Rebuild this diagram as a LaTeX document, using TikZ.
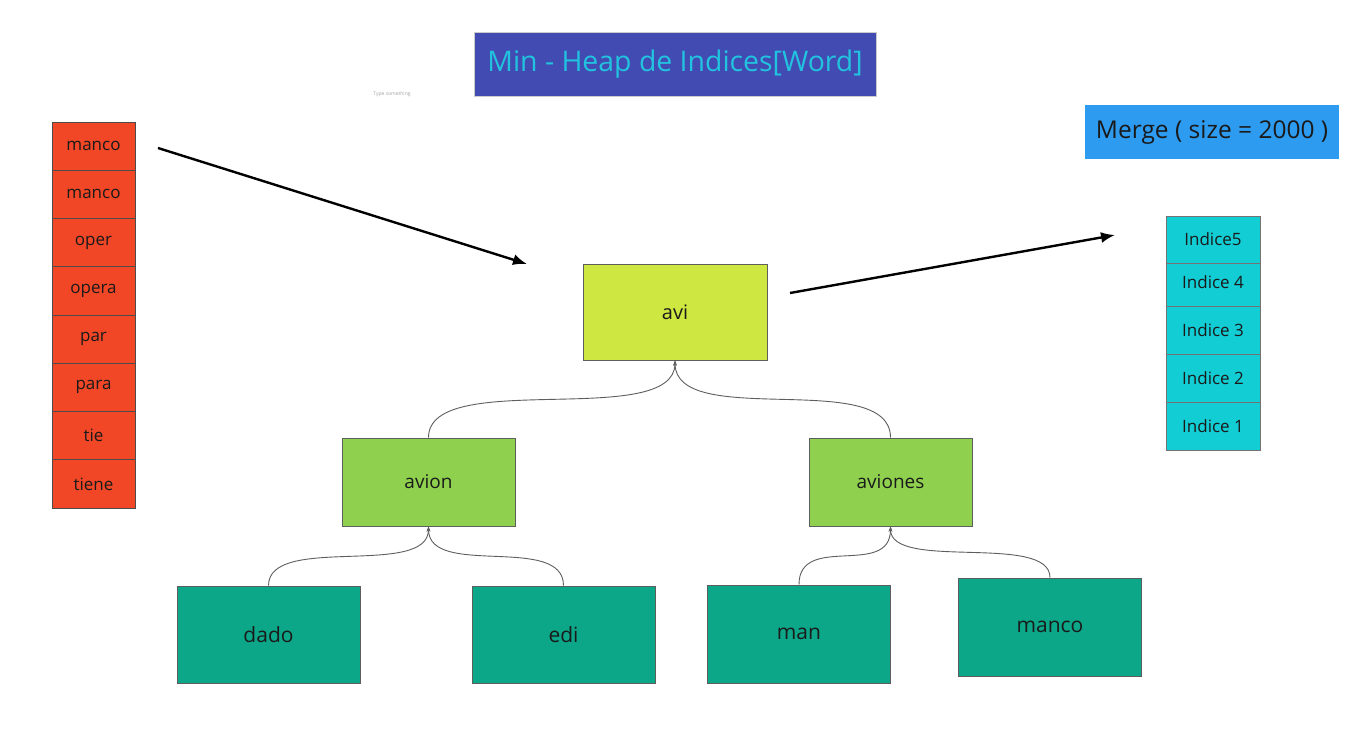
\documentclass[tikz,border=0pt]{standalone}
\usepackage{fontspec}
\setmainfont{Open Sans}
\usetikzlibrary{arrows.meta}
\definecolor{titlefill}{HTML}{414BB2}
\definecolor{titletext}{HTML}{22C3DE}
\definecolor{mergefill}{HTML}{2D9BF0}
\definecolor{redfill}{HTML}{F24726}
\definecolor{limefill}{HTML}{CEE741}
\definecolor{greenfill}{HTML}{8FD14F}
\definecolor{tealfill}{HTML}{0CA789}
\definecolor{cyanfill}{HTML}{12CDD4}
\definecolor{darktext}{HTML}{1A1A1A}
\definecolor{edgegray}{HTML}{5E5E5E}
\tikzset{
  box/.style={draw=edgegray, line width=0.9pt, inner sep=0pt, text=darktext},
  redcell/.style={box, fill=redfill, draw=black!70, minimum width=83pt, minimum height=48.25pt, font=\fontsize{17}{20}\selectfont},
  cyancell/.style={box, fill=cyanfill, draw=black!55, minimum width=94pt, minimum height=48pt, font=\fontsize{17}{20}\selectfont},
  heapA/.style={box, fill=limefill, minimum width=184pt, minimum height=96pt, font=\fontsize{20}{24}\selectfont},
  heapB/.style={box, fill=greenfill, font=\fontsize{19}{23}\selectfont},
  heapC/.style={box, fill=tealfill, minimum width=183pt, minimum height=97pt, font=\fontsize{21}{25}\selectfont},
  bigarrow/.style={line width=2.4pt, -{Latex[length=14pt,width=11pt]}},
  conn/.style={draw=edgegray, line width=0.9pt, -{Stealth[length=5pt,width=3.5pt]}},
}
\begin{document}
\begin{tikzpicture}[x=1pt,y=-1pt]
\useasboundingbox (0,0) rectangle (1356,737);
\fill[white] (0,0) rectangle (1356,737);

% title
\node[fill=titlefill, draw=black!20, line width=0.6pt, minimum width=402pt, minimum height=64pt, inner sep=0pt,
  text=titletext, font=\fontsize{28.4}{32}\selectfont] (title) at (675,64) {Min - Heap de Indices[Word]};
\node[text=black!35, font=\fontsize{5}{6}\selectfont, inner sep=0pt] (hint) at (392,94) {Type something};

% merge
\node[fill=mergefill, minimum width=254pt, minimum height=54pt, inner sep=0pt, text=darktext,
  font=\fontsize{24.5}{28}\selectfont] (merge) at (1212,132) {Merge ( size = 2000 )};

% left column
\foreach \t [count=\i] in {manco,manco,oper,opera,par,para,tie,tiene}{
  \node[redcell] (l\i) at (93.5,{146.1+(\i-1)*48.25}) {\t};
}

% right stack
\node[cyancell] (r1) at (1213,426) {Indice 1};
\node[cyancell] (r2) at (1213,378) {Indice 2};
\node[cyancell] (r3) at (1213,330) {Indice 3};
\node[cyancell] (r4) at (1213,282) {Indice 4};
\node[cyancell, minimum height=47pt] (r5) at (1213,239.5) {Indice5};

% heap
\node[heapA] (avi) at (675,312) {avi};
\node[heapB, minimum width=173pt, minimum height=88pt] (avion) at (428.5,482) {avion};
\node[heapB, minimum width=163pt, minimum height=88pt] (aviones) at (890.5,482) {aviones};
\node[heapC] (dado) at (268.5,634.5) {dado};
\node[heapC] (edi) at (563.5,634.5) {edi};
\node[heapC, minimum height=98pt] (man) at (799,634) {man};
\node[heapC, minimum height=98pt] (manco) at (1050,627) {manco};

% connectors
\draw[conn] (avion.north) .. controls +(0,-70) and +(0,70) .. (avi.south);
\draw[conn] (aviones.north) .. controls +(0,-70) and +(0,70) .. (avi.south);
\draw[conn] (dado.north) .. controls +(0,-52) and +(0,52) .. (avion.south);
\draw[conn] (edi.north) .. controls +(0,-52) and +(0,52) .. (avion.south);
\draw[conn] (man.north) .. controls +(0,-52) and +(0,52) .. (aviones.south);
\draw[conn] (manco.north) .. controls +(0,-45) and +(0,45) .. (aviones.south);

% big arrows
\coordinate (a1s) at (158,148);
\coordinate (a1e) at (527,264);
\coordinate (a2s) at (790,293);
\coordinate (a2e) at (1115,235);
\draw[bigarrow] (a1s) -- (a1e);
\draw[bigarrow] (a2s) -- (a2e);
\end{tikzpicture}
\end{document}
